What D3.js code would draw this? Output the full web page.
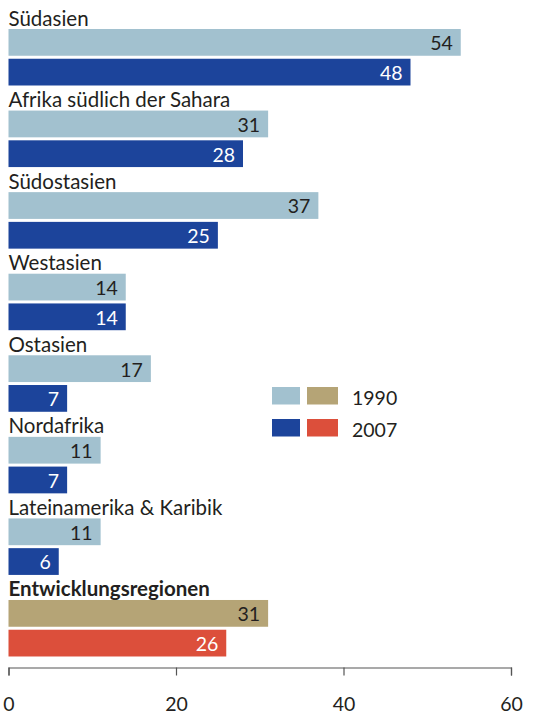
<!DOCTYPE html>
<html><head><meta charset="utf-8">
<script src="https://cdn.jsdelivr.net/npm/d3@7"></script>
<style>html,body{margin:0;padding:0;background:#fff;}</style>
</head><body>
<svg id="chart" width="534" height="714"></svg>
<script>
const categories = ["Südasien","Afrika südlich der Sahara","Südostasien","Westasien","Ostasien","Nordafrika","Lateinamerika & Karibik","Entwicklungsregionen"];
const values1990 = [54,31,37,14,17,11,11,31];
const values2007 = [48,28,25,14,7,7,6,26];
const years = ["1990","2007"];
const xTicks = [0,20,40,60];
const regionColors = ["#a2c1cf","#1c449b"];
const totalColors = ["#b5a476","#dc4f3b"];
const labelColors = ["#231f20","#ffffff"];

const FONT = "Lato, 'Open Sans', sans-serif";
const svg = d3.select("#chart");
const x = d3.scaleLinear().domain([0,60]).range([8.5,511]);
const y = d3.scaleBand().domain(categories).range([29, 29 + 8*81.57]).paddingInner(0);
const ySub = d3.scaleBand().domain(years).range([0,56.5]).paddingInner(0.1);

const rows = categories.map((c,i)=>({cat:c, i, vals:[values1990[i], values2007[i]]}));

const g = svg.selectAll("g.grp").data(rows).join("g").attr("class","grp")
  .attr("transform", d=>`translate(0,${y(d.cat)})`);

g.append("text")
  .attr("x", 8.5).attr("y", -3.5)
  .attr("font-family", FONT).attr("font-size", 20.5)
  .attr("font-weight", d=> d.i===categories.length-1 ? "bold" : "normal")
  .attr("fill","#231f20")
  .text(d=>d.cat);

const bars = g.selectAll("g.bar").data(d=>d.vals.map((v,k)=>({v,k,last:d.i===categories.length-1})))
  .join("g").attr("class","bar");
bars.append("rect")
  .attr("x", x(0)).attr("y", d=>ySub(years[d.k]))
  .attr("width", d=>x(d.v)-x(0)).attr("height", ySub.bandwidth())
  .attr("fill", d=> d.last ? totalColors[d.k] : regionColors[d.k]);
bars.append("text")
  .attr("x", d=>x(d.v)-8).attr("y", d=>ySub(years[d.k]) + ySub.bandwidth() - 5.5)
  .attr("text-anchor","end")
  .attr("font-family", FONT).attr("font-size", 19.5)
  .attr("fill", d=>labelColors[d.k])
  .text(d=>d.v);

// axis
const axisY = 667.5;
const axis = svg.append("g").attr("transform",`translate(0,${axisY})`)
  .call(d3.axisBottom(x).tickValues(xTicks).tickSize(8).tickPadding(22).tickFormat(d3.format("d")));
axis.select(".domain").attr("stroke","#555").attr("stroke-width",1.2);
axis.selectAll(".tick line").attr("stroke","#555").attr("stroke-width",1.2);
axis.selectAll(".tick text").attr("font-family",FONT).attr("font-size",19.5).attr("fill","#231f20");

// legend
const legend = svg.append("g");
const legendRows = years.map((yr,k)=>({yr,k}));
const lg = legend.selectAll("g").data(legendRows).join("g")
  .attr("transform", d=>`translate(272,${387 + d.k*32})`);
lg.append("rect").attr("x",0).attr("y",0).attr("width",28).attr("height",17.5).attr("fill",d=>regionColors[d.k]);
lg.append("rect").attr("x",35).attr("y",0).attr("width",31).attr("height",17.5).attr("fill",d=>totalColors[d.k]);
lg.append("text").attr("x",80).attr("y",17.5)
  .attr("font-family",FONT).attr("font-size",19.5).attr("fill","#231f20").text(d=>d.yr);
</script>
</body></html>
